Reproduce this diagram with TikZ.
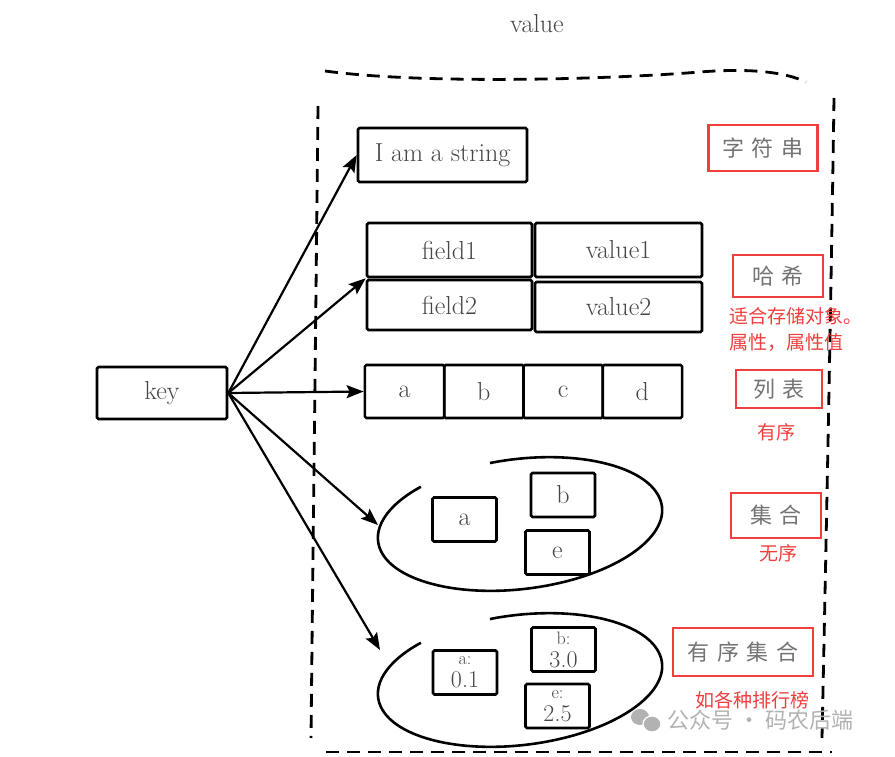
\documentclass[tikz,border=0pt]{standalone}
\usepackage{fontspec}
\usetikzlibrary{arrows.meta}
\newfontfamily\cjk{Noto Sans CJK SC}
\newfontfamily\cjkwide[LetterSpace=35]{Noto Sans CJK SC}
\definecolor{markred}{RGB}{240,62,62}
\definecolor{inkgray}{RGB}{70,70,70}
\definecolor{tipgray}{RGB}{115,115,115}
\definecolor{wmgray}{RGB}{178,178,178}

\begin{document}
\begin{tikzpicture}[
            x=1pt, y=-1pt,
            cell/.style={draw, line width=2.6pt, rounded corners=1.5pt, inner sep=0pt, text=inkgray, font=\fontsize{26}{26}\selectfont},
            smallcell/.style={cell, minimum width=64pt, minimum height=44pt},
            pair/.style={smallcell, align=center, font=\fontsize{24}{23}\selectfont},
            link/.style={-{Stealth[length=17pt,width=13pt,inset=3pt]}, line width=2.2pt},
            ring/.style={line width=2.6pt},
            frame/.style={line width=2.8pt, dash pattern=on 13pt off 8pt},
            tag/.style={draw=markred, line width=2.6pt, inner sep=0pt, text=tipgray, font=\fontsize{22}{22}\cjkwide},
            note/.style={text=markred, font=\fontsize{19}{26}\cjk}
            ]
            \useasboundingbox (0,0) rectangle (895,757);

            \node[font=\fontsize{26}{26}\selectfont, text=inkgray] (title) at (537,24) {value};

            % dashed frame round the values
            \draw[frame] (325,71) .. controls (420,84) and (600,80) .. (700,72) .. controls (750,68) and (785,72) .. (806,82);
            \draw[frame] (318,106) .. controls (316,300) and (313,550) .. (311,738);
            \draw[frame] (834,98) .. controls (831,300) and (826,550) .. (822,738);
            \draw[frame] (326,752) -- (832,752);

            \node[cell, minimum width=130pt, minimum height=52pt] (key) at (162,393) {key};

            % string
            \node[cell, minimum width=169pt, minimum height=54pt] (str) at (442.5,155) {I am a string};

            % hash
            \node[cell, minimum width=165pt, minimum height=54pt] (f1) at (449.5,250) {field1};
            \node[cell, minimum width=167pt, minimum height=54pt] (v1) at (618.5,250) {value1};
            \node[cell, minimum width=165pt, minimum height=50pt] (f2) at (449.5,305) {field2};
            \node[cell, minimum width=167pt, minimum height=50pt] (v2) at (618.5,307) {value2};

            % list
            \foreach \t [count=\i] in {a,b,c,d}
                \node[cell, minimum width=79.5pt, minimum height=53pt] (l\i) at ({365+79.25*(\i-0.5)},391.5) {\t};

            % set
            \coordinate (sc) at (520,524);
            \draw[ring, rotate around={7:(sc)}] ([shift={(-99:143 and 65)}]sc) arc[start angle=-99, end angle=229, x radius=143, y radius=65];
            \node[smallcell] (sa) at (464.5,519.5) {a};
            \node[smallcell] (sb) at (563,495) {b};
            \node[smallcell] (se) at (557.5,552.5) {e};
            \coordinate (setw) at (378,525);

            % sorted set
            \coordinate (zc) at (520,680);
            \draw[ring, rotate around={7:(zc)}] ([shift={(-99:143 and 65)}]zc) arc[start angle=-99, end angle=229, x radius=143, y radius=65];
            \node[pair] (za) at (465,672.5) {{\fontsize{18}{18}\selectfont a:}\\0.1};
            \node[pair] (zb) at (563.5,649.5) {{\fontsize{18}{18}\selectfont b:}\\3.0};
            \node[pair] (ze) at (557.5,706) {{\fontsize{18}{18}\selectfont e:}\\2.5};
            \coordinate (zsetw) at (380,650);

            \draw[link] (key.east) -- (str.west);
            \draw[link] (key.east) -- (f1.south west);
            \draw[link] (key.east) -- (l1.west);
            \draw[link] (key.east) -- (setw);
            \draw[link] (key.east) -- (zsetw);

            % red marks
            \node[tag, minimum width=109pt, minimum height=46pt] (t1) at (763,148) {字符串};
            \node[tag, minimum width=90pt, minimum height=42pt] (t2) at (778,276) {哈希};
            \node[note, anchor=north west, align=left] (n2) at (726,304) {适合存储对象。\\属性，属性值};
            \node[tag, minimum width=86pt, minimum height=38pt] (t3) at (779,389) {列表};
            \node[note] (n3) at (776,432) {有序};
            \node[tag, minimum width=90pt, minimum height=45pt] (t4) at (776,515.5) {集合};
            \node[note] (n4) at (778,553) {无序};
            \node[tag, minimum width=140pt, minimum height=48pt] (t5) at (743,652) {有序集合};
            \node[note] (n5) at (752,700) {如各种排行榜};

            % watermark
            \fill[wmgray] (640,717) ellipse (9pt and 8pt);
            \fill[wmgray, draw=white, line width=1.2pt] (652,724) ellipse (9pt and 8pt);
            \node[text=wmgray, font=\fontsize{22}{22}\cjk, anchor=west] (wm) at (664,720) {公众号 · 码农后端};

            \end{tikzpicture}
\end{document}
